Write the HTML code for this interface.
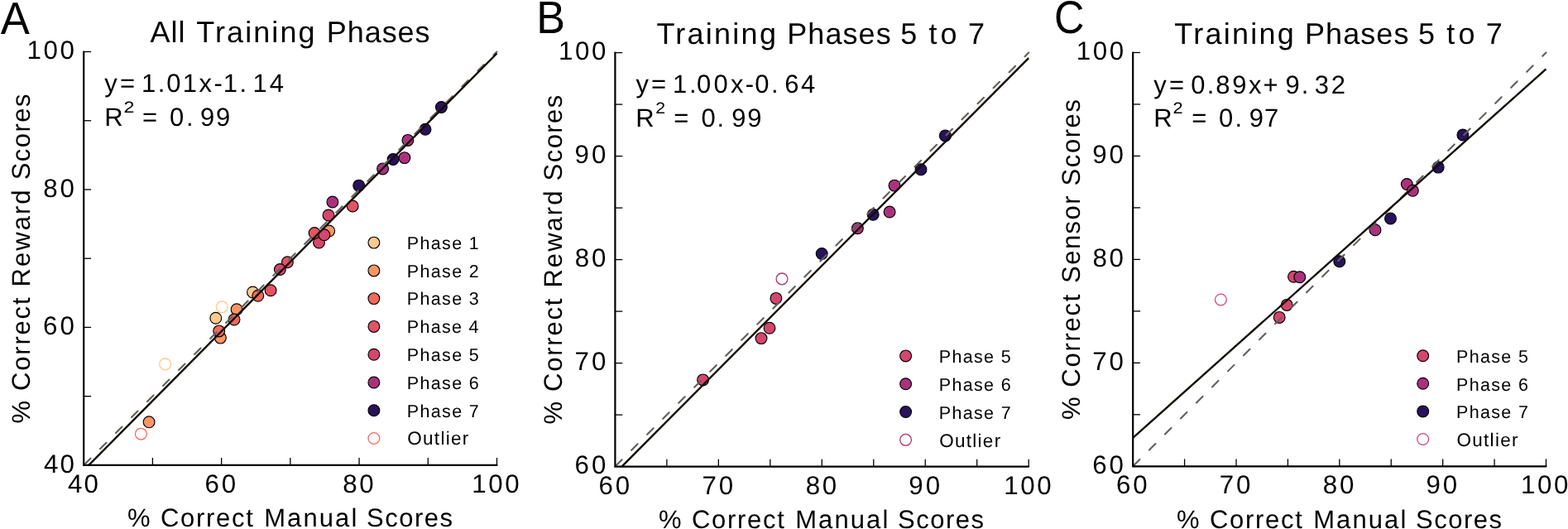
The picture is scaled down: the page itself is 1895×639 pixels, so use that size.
<!DOCTYPE html>
<html><head><meta charset="utf-8"><title>Training phases scatter</title>
<style>html,body{margin:0;padding:0;background:#fff;overflow:hidden}svg{display:block}text{font-family:"Liberation Sans",Arial,sans-serif;fill:#000;text-rendering:geometricPrecision}</style></head>
<body><svg width="1895" height="639" viewBox="0 0 1895 639">
<rect width="1895" height="639" fill="#fff"/>
<g>
<circle cx="260.8" cy="384.3" r="6.9" fill="#feca8e" stroke="#000" stroke-width="1.15"/>
<circle cx="305.5" cy="353.0" r="6.9" fill="#feca8e" stroke="#000" stroke-width="1.15"/>
<circle cx="180.1" cy="509.8" r="6.9" fill="#fa9664" stroke="#000" stroke-width="1.15"/>
<circle cx="266.4" cy="408.1" r="6.9" fill="#fa9664" stroke="#000" stroke-width="1.15"/>
<circle cx="286.1" cy="373.8" r="6.9" fill="#fa9664" stroke="#000" stroke-width="1.15"/>
<circle cx="397.7" cy="279.0" r="6.9" fill="#fa9664" stroke="#000" stroke-width="1.15"/>
<circle cx="264.7" cy="399.9" r="6.9" fill="#f26a5c" stroke="#000" stroke-width="1.15"/>
<circle cx="283.0" cy="386.0" r="6.9" fill="#f26a5c" stroke="#000" stroke-width="1.15"/>
<circle cx="311.8" cy="357.2" r="6.9" fill="#f26a5c" stroke="#000" stroke-width="1.15"/>
<circle cx="327.1" cy="350.7" r="6.9" fill="#e45364" stroke="#000" stroke-width="1.15"/>
<circle cx="347.4" cy="316.8" r="6.9" fill="#e45364" stroke="#000" stroke-width="1.15"/>
<circle cx="426.2" cy="249.0" r="6.9" fill="#e45364" stroke="#000" stroke-width="1.15"/>
<circle cx="338.4" cy="325.5" r="6.9" fill="#d4466e" stroke="#000" stroke-width="1.15"/>
<circle cx="385.5" cy="293.0" r="6.9" fill="#d4466e" stroke="#000" stroke-width="1.15"/>
<circle cx="380.1" cy="281.5" r="6.9" fill="#e45364" stroke="#000" stroke-width="1.15"/>
<circle cx="391.9" cy="283.7" r="6.9" fill="#d4466e" stroke="#000" stroke-width="1.15"/>
<circle cx="397.0" cy="260.0" r="6.9" fill="#d4466e" stroke="#000" stroke-width="1.15"/>
<circle cx="401.9" cy="244.0" r="6.9" fill="#aa327d" stroke="#000" stroke-width="1.15"/>
<circle cx="462.6" cy="203.9" r="6.9" fill="#aa327d" stroke="#000" stroke-width="1.15"/>
<circle cx="488.9" cy="190.6" r="6.9" fill="#aa327d" stroke="#000" stroke-width="1.15"/>
<circle cx="492.9" cy="169.4" r="6.9" fill="#aa327d" stroke="#000" stroke-width="1.15"/>
<circle cx="433.7" cy="224.1" r="6.9" fill="#28125a" stroke="#000" stroke-width="1.15"/>
<circle cx="475.1" cy="192.5" r="6.9" fill="#28125a" stroke="#000" stroke-width="1.15"/>
<circle cx="514.0" cy="156.2" r="6.9" fill="#28125a" stroke="#000" stroke-width="1.15"/>
<circle cx="533.4" cy="129.5" r="6.9" fill="#28125a" stroke="#000" stroke-width="1.15"/>
<circle cx="199.6" cy="439.9" r="6.9" fill="none" stroke="#feca8e" stroke-width="1.3"/>
<circle cx="268.3" cy="370.8" r="6.9" fill="none" stroke="#feca8e" stroke-width="1.3"/>
<circle cx="170.4" cy="524.2" r="6.9" fill="none" stroke="#f26a5c" stroke-width="1.3"/>
<line x1="101.2" y1="561.9" x2="600.5" y2="62.5" stroke="#5f5f5f" stroke-width="2.1" stroke-dasharray="10.6 16.3" stroke-linecap="round" stroke-dashoffset="-1.05"/>
<line x1="107.30" y1="561.90" x2="600.50" y2="64.47" stroke="#140d04" stroke-width="2.4"/>
<line x1="184.42" y1="561.9" x2="184.42" y2="553.00" stroke="#000" stroke-width="1.3"/>
<line x1="101.2" y1="478.67" x2="110.10" y2="478.67" stroke="#000" stroke-width="1.3"/>
<line x1="267.63" y1="561.9" x2="267.63" y2="553.00" stroke="#000" stroke-width="1.3"/>
<line x1="101.2" y1="395.43" x2="110.10" y2="395.43" stroke="#000" stroke-width="1.3"/>
<line x1="350.85" y1="561.9" x2="350.85" y2="553.00" stroke="#000" stroke-width="1.3"/>
<line x1="101.2" y1="312.20" x2="110.10" y2="312.20" stroke="#000" stroke-width="1.3"/>
<line x1="434.07" y1="561.9" x2="434.07" y2="553.00" stroke="#000" stroke-width="1.3"/>
<line x1="101.2" y1="228.97" x2="110.10" y2="228.97" stroke="#000" stroke-width="1.3"/>
<line x1="517.28" y1="561.9" x2="517.28" y2="553.00" stroke="#000" stroke-width="1.3"/>
<line x1="101.2" y1="145.73" x2="110.10" y2="145.73" stroke="#000" stroke-width="1.3"/>
<line x1="600.50" y1="561.9" x2="600.50" y2="553.00" stroke="#000" stroke-width="1.3"/>
<line x1="101.2" y1="62.50" x2="110.10" y2="62.50" stroke="#000" stroke-width="1.3"/>
<path d="M101.2 62.5V561.9H600.5" fill="none" stroke="#000" stroke-width="2.2" stroke-linecap="round" stroke-linejoin="miter"/>
</g>
<text x="53.10" y="570.70" font-size="31.3" letter-spacing="1.95">40</text>
<text x="82.10" y="594.60" font-size="31.3" letter-spacing="1.95">40</text>
<text x="52.10" y="404.23" font-size="31.3" letter-spacing="2.95">60</text>
<text x="247.53" y="594.60" font-size="31.3" letter-spacing="2.95">60</text>
<text x="52.35" y="237.77" font-size="31.3" letter-spacing="2.70">80</text>
<text x="414.22" y="594.60" font-size="31.3" letter-spacing="2.70">80</text>
<text x="32.55" y="71.30" font-size="31.3" letter-spacing="2.62">100</text>
<text x="570.25" y="594.60" font-size="31.3" letter-spacing="2.62">100</text>
<g>
<circle cx="849.6" cy="458.9" r="6.9" fill="#d4466e" stroke="#000" stroke-width="1.15"/>
<circle cx="920.0" cy="408.6" r="6.9" fill="#d4466e" stroke="#000" stroke-width="1.15"/>
<circle cx="930.0" cy="396.2" r="6.9" fill="#d4466e" stroke="#000" stroke-width="1.15"/>
<circle cx="937.9" cy="360.4" r="6.9" fill="#d4466e" stroke="#000" stroke-width="1.15"/>
<circle cx="1036.4" cy="275.8" r="6.9" fill="#aa327d" stroke="#000" stroke-width="1.15"/>
<circle cx="1075.1" cy="256.0" r="6.9" fill="#aa327d" stroke="#000" stroke-width="1.15"/>
<circle cx="1081.0" cy="224.1" r="6.9" fill="#aa327d" stroke="#000" stroke-width="1.15"/>
<circle cx="993.2" cy="306.5" r="6.9" fill="#28125a" stroke="#000" stroke-width="1.15"/>
<circle cx="1055.2" cy="259.2" r="6.9" fill="#28125a" stroke="#000" stroke-width="1.15"/>
<circle cx="1113.0" cy="204.8" r="6.9" fill="#28125a" stroke="#000" stroke-width="1.15"/>
<circle cx="1142.4" cy="163.9" r="6.9" fill="#28125a" stroke="#000" stroke-width="1.15"/>
<circle cx="945.0" cy="336.9" r="6.9" fill="none" stroke="#aa327d" stroke-width="1.3"/>
<line x1="743.4" y1="563.6" x2="1243.2" y2="63.6" stroke="#5f5f5f" stroke-width="2.1" stroke-dasharray="10.6 16.3" stroke-linecap="round" stroke-dashoffset="-1.05"/>
<line x1="751.40" y1="563.60" x2="1243.20" y2="70.10" stroke="#140d04" stroke-width="2.4"/>
<line x1="805.88" y1="563.6" x2="805.88" y2="554.70" stroke="#000" stroke-width="1.3"/>
<line x1="743.4" y1="501.10" x2="752.30" y2="501.10" stroke="#000" stroke-width="1.3"/>
<line x1="868.35" y1="563.6" x2="868.35" y2="554.70" stroke="#000" stroke-width="1.3"/>
<line x1="743.4" y1="438.60" x2="752.30" y2="438.60" stroke="#000" stroke-width="1.3"/>
<line x1="930.83" y1="563.6" x2="930.83" y2="554.70" stroke="#000" stroke-width="1.3"/>
<line x1="743.4" y1="376.10" x2="752.30" y2="376.10" stroke="#000" stroke-width="1.3"/>
<line x1="993.30" y1="563.6" x2="993.30" y2="554.70" stroke="#000" stroke-width="1.3"/>
<line x1="743.4" y1="313.60" x2="752.30" y2="313.60" stroke="#000" stroke-width="1.3"/>
<line x1="1055.78" y1="563.6" x2="1055.78" y2="554.70" stroke="#000" stroke-width="1.3"/>
<line x1="743.4" y1="251.10" x2="752.30" y2="251.10" stroke="#000" stroke-width="1.3"/>
<line x1="1118.25" y1="563.6" x2="1118.25" y2="554.70" stroke="#000" stroke-width="1.3"/>
<line x1="743.4" y1="188.60" x2="752.30" y2="188.60" stroke="#000" stroke-width="1.3"/>
<line x1="1180.72" y1="563.6" x2="1180.72" y2="554.70" stroke="#000" stroke-width="1.3"/>
<line x1="743.4" y1="126.10" x2="752.30" y2="126.10" stroke="#000" stroke-width="1.3"/>
<line x1="1243.20" y1="563.6" x2="1243.20" y2="554.70" stroke="#000" stroke-width="1.3"/>
<line x1="743.4" y1="63.60" x2="752.30" y2="63.60" stroke="#000" stroke-width="1.3"/>
<path d="M743.4 63.6V563.6H1243.2" fill="none" stroke="#000" stroke-width="2.2" stroke-linecap="round" stroke-linejoin="miter"/>
</g>
<text x="694.60" y="572.40" font-size="31.3" letter-spacing="2.95">60</text>
<text x="723.50" y="596.50" font-size="31.3" letter-spacing="2.95">60</text>
<text x="694.60" y="447.40" font-size="31.3" letter-spacing="2.95">70</text>
<text x="848.45" y="596.50" font-size="31.3" letter-spacing="2.95">70</text>
<text x="694.85" y="322.40" font-size="31.3" letter-spacing="2.70">80</text>
<text x="973.65" y="596.50" font-size="31.3" letter-spacing="2.70">80</text>
<text x="694.60" y="197.40" font-size="31.3" letter-spacing="2.95">90</text>
<text x="1098.35" y="596.50" font-size="31.3" letter-spacing="2.95">90</text>
<text x="675.05" y="72.40" font-size="31.3" letter-spacing="2.62">100</text>
<text x="1213.15" y="596.50" font-size="31.3" letter-spacing="2.62">100</text>
<g>
<circle cx="1546.2" cy="383.4" r="6.9" fill="#d4466e" stroke="#000" stroke-width="1.15"/>
<circle cx="1555.2" cy="368.4" r="6.9" fill="#d4466e" stroke="#000" stroke-width="1.15"/>
<circle cx="1563.5" cy="334.3" r="6.9" fill="#d4466e" stroke="#000" stroke-width="1.15"/>
<circle cx="1570.8" cy="334.7" r="6.9" fill="#aa327d" stroke="#000" stroke-width="1.15"/>
<circle cx="1662.0" cy="277.8" r="6.9" fill="#aa327d" stroke="#000" stroke-width="1.15"/>
<circle cx="1700.3" cy="222.5" r="6.9" fill="#aa327d" stroke="#000" stroke-width="1.15"/>
<circle cx="1707.4" cy="230.3" r="6.9" fill="#aa327d" stroke="#000" stroke-width="1.15"/>
<circle cx="1618.8" cy="315.7" r="6.9" fill="#28125a" stroke="#000" stroke-width="1.15"/>
<circle cx="1680.5" cy="264.0" r="6.9" fill="#28125a" stroke="#000" stroke-width="1.15"/>
<circle cx="1738.2" cy="202.1" r="6.9" fill="#28125a" stroke="#000" stroke-width="1.15"/>
<circle cx="1767.9" cy="163.0" r="6.9" fill="#28125a" stroke="#000" stroke-width="1.15"/>
<circle cx="1475.4" cy="362.0" r="6.9" fill="none" stroke="#d4466e" stroke-width="1.3"/>
<line x1="1369.2" y1="563.3" x2="1868.5" y2="63.5" stroke="#5f5f5f" stroke-width="2.1" stroke-dasharray="10.6 16.3" stroke-linecap="round" stroke-dashoffset="-1.05"/>
<line x1="1369.20" y1="528.91" x2="1868.50" y2="83.29" stroke="#140d04" stroke-width="2.4"/>
<line x1="1431.61" y1="563.3" x2="1431.61" y2="554.40" stroke="#000" stroke-width="1.3"/>
<line x1="1369.2" y1="500.82" x2="1378.10" y2="500.82" stroke="#000" stroke-width="1.3"/>
<line x1="1494.03" y1="563.3" x2="1494.03" y2="554.40" stroke="#000" stroke-width="1.3"/>
<line x1="1369.2" y1="438.35" x2="1378.10" y2="438.35" stroke="#000" stroke-width="1.3"/>
<line x1="1556.44" y1="563.3" x2="1556.44" y2="554.40" stroke="#000" stroke-width="1.3"/>
<line x1="1369.2" y1="375.88" x2="1378.10" y2="375.88" stroke="#000" stroke-width="1.3"/>
<line x1="1618.85" y1="563.3" x2="1618.85" y2="554.40" stroke="#000" stroke-width="1.3"/>
<line x1="1369.2" y1="313.40" x2="1378.10" y2="313.40" stroke="#000" stroke-width="1.3"/>
<line x1="1681.26" y1="563.3" x2="1681.26" y2="554.40" stroke="#000" stroke-width="1.3"/>
<line x1="1369.2" y1="250.92" x2="1378.10" y2="250.92" stroke="#000" stroke-width="1.3"/>
<line x1="1743.67" y1="563.3" x2="1743.67" y2="554.40" stroke="#000" stroke-width="1.3"/>
<line x1="1369.2" y1="188.45" x2="1378.10" y2="188.45" stroke="#000" stroke-width="1.3"/>
<line x1="1806.09" y1="563.3" x2="1806.09" y2="554.40" stroke="#000" stroke-width="1.3"/>
<line x1="1369.2" y1="125.97" x2="1378.10" y2="125.97" stroke="#000" stroke-width="1.3"/>
<line x1="1868.50" y1="563.3" x2="1868.50" y2="554.40" stroke="#000" stroke-width="1.3"/>
<line x1="1369.2" y1="63.50" x2="1378.10" y2="63.50" stroke="#000" stroke-width="1.3"/>
<path d="M1369.2 63.5V563.3H1868.5" fill="none" stroke="#000" stroke-width="2.2" stroke-linecap="round" stroke-linejoin="miter"/>
</g>
<text x="1320.20" y="572.10" font-size="31.3" letter-spacing="2.95">60</text>
<text x="1348.90" y="596.40" font-size="31.3" letter-spacing="2.95">60</text>
<text x="1320.20" y="447.15" font-size="31.3" letter-spacing="2.95">70</text>
<text x="1473.73" y="596.40" font-size="31.3" letter-spacing="2.95">70</text>
<text x="1320.45" y="322.20" font-size="31.3" letter-spacing="2.70">80</text>
<text x="1598.80" y="596.40" font-size="31.3" letter-spacing="2.70">80</text>
<text x="1320.20" y="197.25" font-size="31.3" letter-spacing="2.95">90</text>
<text x="1723.38" y="596.40" font-size="31.3" letter-spacing="2.95">90</text>
<text x="1300.65" y="72.30" font-size="31.3" letter-spacing="2.62">100</text>
<text x="1838.05" y="596.40" font-size="31.3" letter-spacing="2.62">100</text>
<text transform="matrix(0.9572 0 0 1.0000 0.66 40.70)" x="0" y="0" font-size="55">A</text>
<text transform="matrix(0.9470 0 0 1.0079 648.14 39.70)" x="0" y="0" font-size="55">B</text>
<text transform="matrix(0.9180 0 0 1.0166 1273.88 39.94)" x="0" y="0" font-size="55">C</text>
<text x="181.40" y="51.40" font-size="36" letter-spacing="1.02">All</text>
<text x="237.25" y="51.40" font-size="36" letter-spacing="2.08">Training</text>
<text x="394.65" y="51.40" font-size="36" letter-spacing="0.98">Phases</text>
<text x="793.45" y="52.90" font-size="36" letter-spacing="2.25">Training</text>
<text x="951.25" y="52.90" font-size="36" letter-spacing="1.06">Phases</text>
<text x="1088.20" y="52.90" font-size="36">5</text>
<text x="1122.50" y="52.90" font-size="36" letter-spacing="4.10">to</text>
<text x="1169.95" y="52.90" font-size="36">7</text>
<text x="1419.25" y="52.90" font-size="36" letter-spacing="2.25">Training</text>
<text x="1577.05" y="52.90" font-size="36" letter-spacing="1.06">Phases</text>
<text x="1714.00" y="52.90" font-size="36">5</text>
<text x="1748.30" y="52.90" font-size="36" letter-spacing="4.10">to</text>
<text x="1795.75" y="52.90" font-size="36">7</text>
<text x="154.00" y="636.40" font-size="31">%</text>
<text x="193.90" y="636.40" font-size="31" letter-spacing="1.72">Correct</text>
<text x="319.20" y="636.40" font-size="31" letter-spacing="2.09">Manual</text>
<text x="443.00" y="636.40" font-size="31" letter-spacing="1.52">Scores</text>
<text x="796.00" y="638.00" font-size="31">%</text>
<text x="835.90" y="638.00" font-size="31" letter-spacing="1.72">Correct</text>
<text x="961.20" y="638.00" font-size="31" letter-spacing="2.09">Manual</text>
<text x="1085.00" y="638.00" font-size="31" letter-spacing="1.52">Scores</text>
<text x="1422.00" y="637.70" font-size="31">%</text>
<text x="1461.90" y="637.70" font-size="31" letter-spacing="1.72">Correct</text>
<text x="1587.20" y="637.70" font-size="31" letter-spacing="2.09">Manual</text>
<text x="1711.00" y="637.70" font-size="31" letter-spacing="1.52">Scores</text>
<text transform="rotate(-90)" x="-511.40" y="36.00" font-size="31">%</text>
<text transform="rotate(-90)" x="-471.90" y="36.00" font-size="31" letter-spacing="1.80">Correct</text>
<text transform="rotate(-90)" x="-346.50" y="36.00" font-size="31" letter-spacing="2.05">Reward</text>
<text transform="rotate(-90)" x="-217.30" y="36.00" font-size="31" letter-spacing="1.44">Scores</text>
<text transform="rotate(-90)" x="-512.50" y="679.00" font-size="31">%</text>
<text transform="rotate(-90)" x="-473.00" y="679.00" font-size="31" letter-spacing="1.80">Correct</text>
<text transform="rotate(-90)" x="-347.60" y="679.00" font-size="31" letter-spacing="2.05">Reward</text>
<text transform="rotate(-90)" x="-218.40" y="679.00" font-size="31" letter-spacing="1.44">Scores</text>
<text transform="rotate(-90)" x="-507.10" y="1304.70" font-size="31">%</text>
<text transform="rotate(-90)" x="-467.70" y="1304.70" font-size="31" letter-spacing="1.75">Correct</text>
<text transform="rotate(-90)" x="-341.90" y="1304.70" font-size="31" letter-spacing="1.45">Sensor</text>
<text transform="rotate(-90)" x="-224.40" y="1304.70" font-size="31" letter-spacing="1.56">Scores</text>
<text x="126.35" y="111.00" font-size="31">y</text>
<text x="144.88" y="111.00" font-size="31">=</text>
<text x="171.00" y="111.00" font-size="31">1</text>
<text x="190.82" y="111.00" font-size="31">.</text>
<text x="201.25" y="111.00" font-size="31">0</text>
<text x="220.65" y="111.00" font-size="31">1</text>
<text x="240.60" y="111.00" font-size="31">x</text>
<text x="258.42" y="111.00" font-size="31">-</text>
<text x="269.75" y="111.00" font-size="31">1</text>
<text x="289.57" y="111.00" font-size="31">.</text>
<text x="305.55" y="111.00" font-size="31">1</text>
<text x="325.65" y="111.00" font-size="31">4</text>
<text x="126.28" y="151.50" font-size="31">R</text>
<text transform="matrix(1.1077 0 0 0.9220 149.39 136.00)" x="0" y="0" font-size="21">2</text>
<text x="172.12" y="151.50" font-size="31">=</text>
<text x="205.00" y="151.50" font-size="31">0</text>
<text x="224.97" y="151.50" font-size="31">.</text>
<text x="242.05" y="151.50" font-size="31">9</text>
<text x="261.10" y="151.50" font-size="31">9</text>
<text x="768.45" y="112.30" font-size="31">y</text>
<text x="786.98" y="112.30" font-size="31">=</text>
<text x="813.05" y="112.30" font-size="31">1</text>
<text x="832.92" y="112.30" font-size="31">.</text>
<text x="842.05" y="112.30" font-size="31">0</text>
<text x="862.60" y="112.30" font-size="31">0</text>
<text x="883.00" y="112.30" font-size="31">x</text>
<text x="900.83" y="112.30" font-size="31">-</text>
<text x="912.30" y="112.30" font-size="31">0</text>
<text x="931.98" y="112.30" font-size="31">.</text>
<text x="948.15" y="112.30" font-size="31">6</text>
<text x="968.05" y="112.30" font-size="31">4</text>
<text x="768.33" y="152.80" font-size="31">R</text>
<text transform="matrix(1.0154 0 0 0.9220 792.18 137.30)" x="0" y="0" font-size="21">2</text>
<text x="814.17" y="152.80" font-size="31">=</text>
<text x="847.45" y="152.80" font-size="31">0</text>
<text x="866.42" y="152.80" font-size="31">.</text>
<text x="884.15" y="152.80" font-size="31">9</text>
<text x="903.15" y="152.80" font-size="31">9</text>
<text x="1394.35" y="112.50" font-size="31">y</text>
<text x="1412.92" y="112.50" font-size="31">=</text>
<text x="1439.20" y="112.50" font-size="31">0</text>
<text x="1458.83" y="112.50" font-size="31">.</text>
<text x="1469.17" y="112.50" font-size="31">8</text>
<text x="1489.20" y="112.50" font-size="31">9</text>
<text x="1508.95" y="112.50" font-size="31">x</text>
<text x="1526.57" y="112.50" font-size="31">+</text>
<text x="1553.50" y="112.50" font-size="31">9</text>
<text x="1572.72" y="112.50" font-size="31">.</text>
<text x="1588.72" y="112.50" font-size="31">3</text>
<text x="1608.82" y="112.50" font-size="31">2</text>
<text x="1394.28" y="152.80" font-size="31">R</text>
<text transform="matrix(1.0359 0 0 0.9220 1417.56 137.30)" x="0" y="0" font-size="21">2</text>
<text x="1440.18" y="152.80" font-size="31">=</text>
<text x="1473.10" y="152.80" font-size="31">0</text>
<text x="1492.38" y="152.80" font-size="31">.</text>
<text x="1509.80" y="152.80" font-size="31">9</text>
<text x="1528.03" y="152.80" font-size="31">7</text>
<circle cx="451.9" cy="293.1" r="6.9" fill="#feca8e" stroke="#000" stroke-width="1.15"/>
<text x="491.85" y="300.90" font-size="21.5" letter-spacing="1.33">Phase 1</text>
<circle cx="451.9" cy="326.9" r="6.9" fill="#fa9664" stroke="#000" stroke-width="1.15"/>
<text x="491.85" y="334.67" font-size="21.5" letter-spacing="1.33">Phase 2</text>
<circle cx="451.9" cy="360.6" r="6.9" fill="#f26a5c" stroke="#000" stroke-width="1.15"/>
<text x="491.85" y="368.44" font-size="21.5" letter-spacing="1.33">Phase 3</text>
<circle cx="451.9" cy="394.4" r="6.9" fill="#e45364" stroke="#000" stroke-width="1.15"/>
<text x="491.85" y="402.21" font-size="21.5" letter-spacing="1.28">Phase 4</text>
<circle cx="451.9" cy="428.2" r="6.9" fill="#d4466e" stroke="#000" stroke-width="1.15"/>
<text x="491.85" y="435.98" font-size="21.5" letter-spacing="1.33">Phase 5</text>
<circle cx="451.9" cy="462.0" r="6.9" fill="#aa327d" stroke="#000" stroke-width="1.15"/>
<text x="491.85" y="469.75" font-size="21.5" letter-spacing="1.33">Phase 6</text>
<circle cx="451.9" cy="495.7" r="6.9" fill="#28125a" stroke="#000" stroke-width="1.15"/>
<text x="491.85" y="503.52" font-size="21.5" letter-spacing="1.33">Phase 7</text>
<circle cx="451.9" cy="529.5" r="6.9" fill="none" stroke="#f26a5c" stroke-width="1.3"/>
<text x="492.30" y="537.29" font-size="22.5" letter-spacing="1.28">Outlier</text>
<circle cx="1094.6" cy="429.9" r="6.9" fill="#d4466e" stroke="#000" stroke-width="1.15"/>
<text x="1134.75" y="438.10" font-size="21.5" letter-spacing="1.33">Phase 5</text>
<circle cx="1094.6" cy="463.7" r="6.9" fill="#aa327d" stroke="#000" stroke-width="1.15"/>
<text x="1134.75" y="471.90" font-size="21.5" letter-spacing="1.33">Phase 6</text>
<circle cx="1094.6" cy="497.5" r="6.9" fill="#28125a" stroke="#000" stroke-width="1.15"/>
<text x="1134.75" y="505.70" font-size="21.5" letter-spacing="1.33">Phase 7</text>
<circle cx="1094.6" cy="531.3" r="6.9" fill="none" stroke="#aa327d" stroke-width="1.3"/>
<text x="1135.20" y="539.50" font-size="22.5" letter-spacing="1.28">Outlier</text>
<circle cx="1719.7" cy="429.7" r="6.9" fill="#d4466e" stroke="#000" stroke-width="1.15"/>
<text x="1760.05" y="437.90" font-size="21.5" letter-spacing="1.33">Phase 5</text>
<circle cx="1719.7" cy="463.3" r="6.9" fill="#aa327d" stroke="#000" stroke-width="1.15"/>
<text x="1760.05" y="471.50" font-size="21.5" letter-spacing="1.33">Phase 6</text>
<circle cx="1719.7" cy="496.9" r="6.9" fill="#28125a" stroke="#000" stroke-width="1.15"/>
<text x="1760.05" y="505.10" font-size="21.5" letter-spacing="1.33">Phase 7</text>
<circle cx="1719.7" cy="530.5" r="6.9" fill="none" stroke="#d4466e" stroke-width="1.3"/>
<text x="1760.50" y="538.70" font-size="22.5" letter-spacing="1.28">Outlier</text>
</svg></body></html>
